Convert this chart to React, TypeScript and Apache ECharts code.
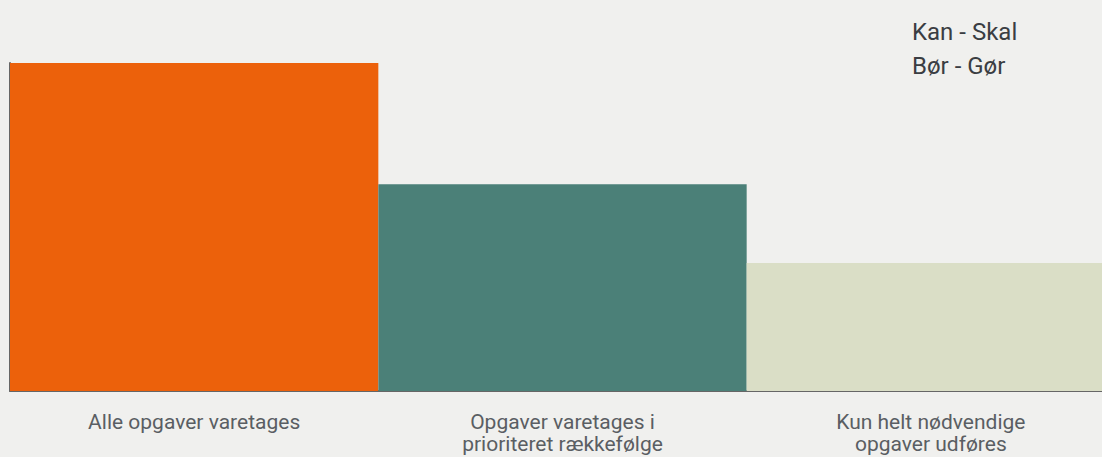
import React, { useEffect, useRef } from "react";
import * as echarts from "echarts";

const categories = [
  "Alle opgaver varetages",
  "Opgaver varetages i\nprioriteret rækkefølge",
  "Kun helt nødvendige\nopgaver udføres",
];
const values = [100, 63, 39];
const barColors = ["#ec610b", "#4b8078", "#dadec6"];
const legendLines = ["Kan - Skal", "Bør - Gør"];

export default function App() {
  const ref = useRef<HTMLDivElement>(null);
  useEffect(() => {
    if (!ref.current) return;
    const chart = echarts.init(ref.current, null, { renderer: "svg" });
    chart.setOption({
      animation: false,
      backgroundColor: "#f0f0ee",
      grid: { left: 10, right: 0, top: 63, bottom: 66, containLabel: false },
      xAxis: {
        type: "category",
        data: categories,
        boundaryGap: true,
        axisTick: { show: false },
        axisLine: { show: true, lineStyle: { color: "#666666", width: 2 } },
        axisLabel: {
          color: "#5a5e63",
          fontSize: 21,
          fontFamily: "Roboto",
          lineHeight: 22,
          margin: 20,
          interval: 0,
        },
      },
      yAxis: {
        type: "value",
        min: 0,
        max: 100,
        axisLabel: { show: false },
        axisTick: { show: false },
        splitLine: { show: false },
        axisLine: { show: true, lineStyle: { color: "#666666", width: 2 } },
      },
      series: [
        {
          type: "bar",
          barWidth: "100%",
          data: values.map((v, i) => ({ value: v, itemStyle: { color: barColors[i] } })),
        },
      ],
      graphic: legendLines.map((t, i) => ({
        type: "text",
        left: 912,
        top: 20 + i * 34,
        style: {
          text: t,
          fill: "#3a3d42",
          fontSize: 24,
          fontFamily: "Roboto",
        },
      })),
    });
    return () => chart.dispose();
  }, []);
  return (
    <div
      style={{
        position: "fixed",
        left: 0,
        top: 0,
        width: 1102,
        height: 457,
        overflow: "hidden",
        background: "#f0f0ee",
      }}
    >
      <div ref={ref} style={{ width: 1115, height: 457 }} />
    </div>
  );
}
